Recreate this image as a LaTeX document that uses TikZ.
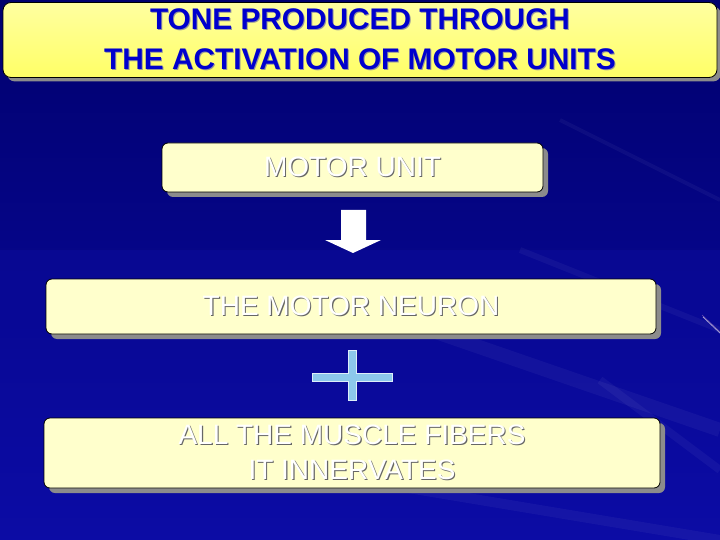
\documentclass[tikz,border=0pt]{standalone}
\usepackage{fontspec}
\setmainfont{Liberation Sans}
\usetikzlibrary{shadows}
\definecolor{bgdark}{RGB}{0,0,110}
\definecolor{bglight}{RGB}{12,12,165}
\definecolor{titleyellow}{RGB}{255,255,102}
\definecolor{titletop}{RGB}{255,255,160}
\definecolor{boxfill}{RGB}{255,255,204}
\definecolor{titleblue}{RGB}{0,0,205}
\definecolor{plusblue}{RGB}{140,200,235}
\newcommand{\embtext}[1]{\rlap{\kern1.1pt\raisebox{-1.1pt}{\color{black!60}#1}}{\color{white}#1}}
\newcommand{\titletext}[1]{\rlap{\kern1pt\raisebox{-1pt}{\color{black!40}#1}}{\color{titleblue}#1}}
\tikzset{
  slidebox/.style={rectangle, rounded corners=6pt, draw=black, line width=0.8pt,
    fill=boxfill, general shadow={fill=black!45, shadow xshift=5pt, shadow yshift=-5pt},
    align=center, font=\fontsize{28}{35}\selectfont, inner sep=0pt},
  titlebox/.style={rectangle, rounded corners=8pt, draw=black, line width=0.8pt,
    top color=titletop, bottom color=titleyellow,
    general shadow={fill=black!45, shadow xshift=4pt, shadow yshift=-4pt},
    align=center, font=\bfseries\fontsize{29.8}{40}\selectfont, inner sep=0pt},
  streak/.style={white, opacity=0.045, line width=#1}
}
\begin{document}
\begin{tikzpicture}[x=1pt,y=-1pt]
\useasboundingbox (0,0) rectangle (720,540);
% background
\shade[left color=bgdark, right color=bglight, shading angle=0] (0,0) rectangle (720,540);
\fill[bglight, opacity=0.35] (0,250) rectangle (720,540);
\draw[streak=14pt] (430,330) -- (720,430);
\draw[streak=6pt] (520,250) -- (720,330);
\draw[streak=10pt] (300,470) -- (720,540);
\draw[streak=4pt] (560,120) -- (720,200);
\draw[streak=8pt] (600,380) -- (720,470);
\draw[white, opacity=0.6, line width=0.8pt] (703,317) -- (720,333);
\draw[violet!40!white, opacity=0.5, line width=0.6pt] (702,315) -- (720,332);
% title
\node[titlebox, minimum width=714pt, minimum height=75pt] (title) at (360,40)
  {\titletext{TONE PRODUCED THROUGH}\\\titletext{THE ACTIVATION OF MOTOR UNITS}};
% boxes
\node[slidebox, minimum width=381pt, minimum height=49pt] (unit) at (352.5,167.5)
  {\embtext{MOTOR UNIT}};
\node[slidebox, minimum width=610pt, minimum height=55pt] (neuron) at (351,306.5)
  {\embtext{THE MOTOR NEURON}};
\node[slidebox, minimum width=616pt, minimum height=70pt] (fibers) at (352,453)
  {\embtext{ALL THE MUSCLE FIBERS}\\\embtext{IT INNERVATES}};
% block arrow
\fill[white] (341,210) -- (366,210) -- (366,240) -- (381,240) -- (353,253)
  -- (325,240) -- (341,240) -- cycle;
% plus sign
\draw[fill=plusblue, draw=white!70!plusblue, line width=0.6pt]
  (348,350) -- (356,350) -- (356,373) -- (392,373) -- (392,381) -- (356,381)
  -- (356,400) -- (348,400) -- (348,381) -- (312,381) -- (312,373) -- (348,373) -- cycle;
\end{tikzpicture}
\end{document}
